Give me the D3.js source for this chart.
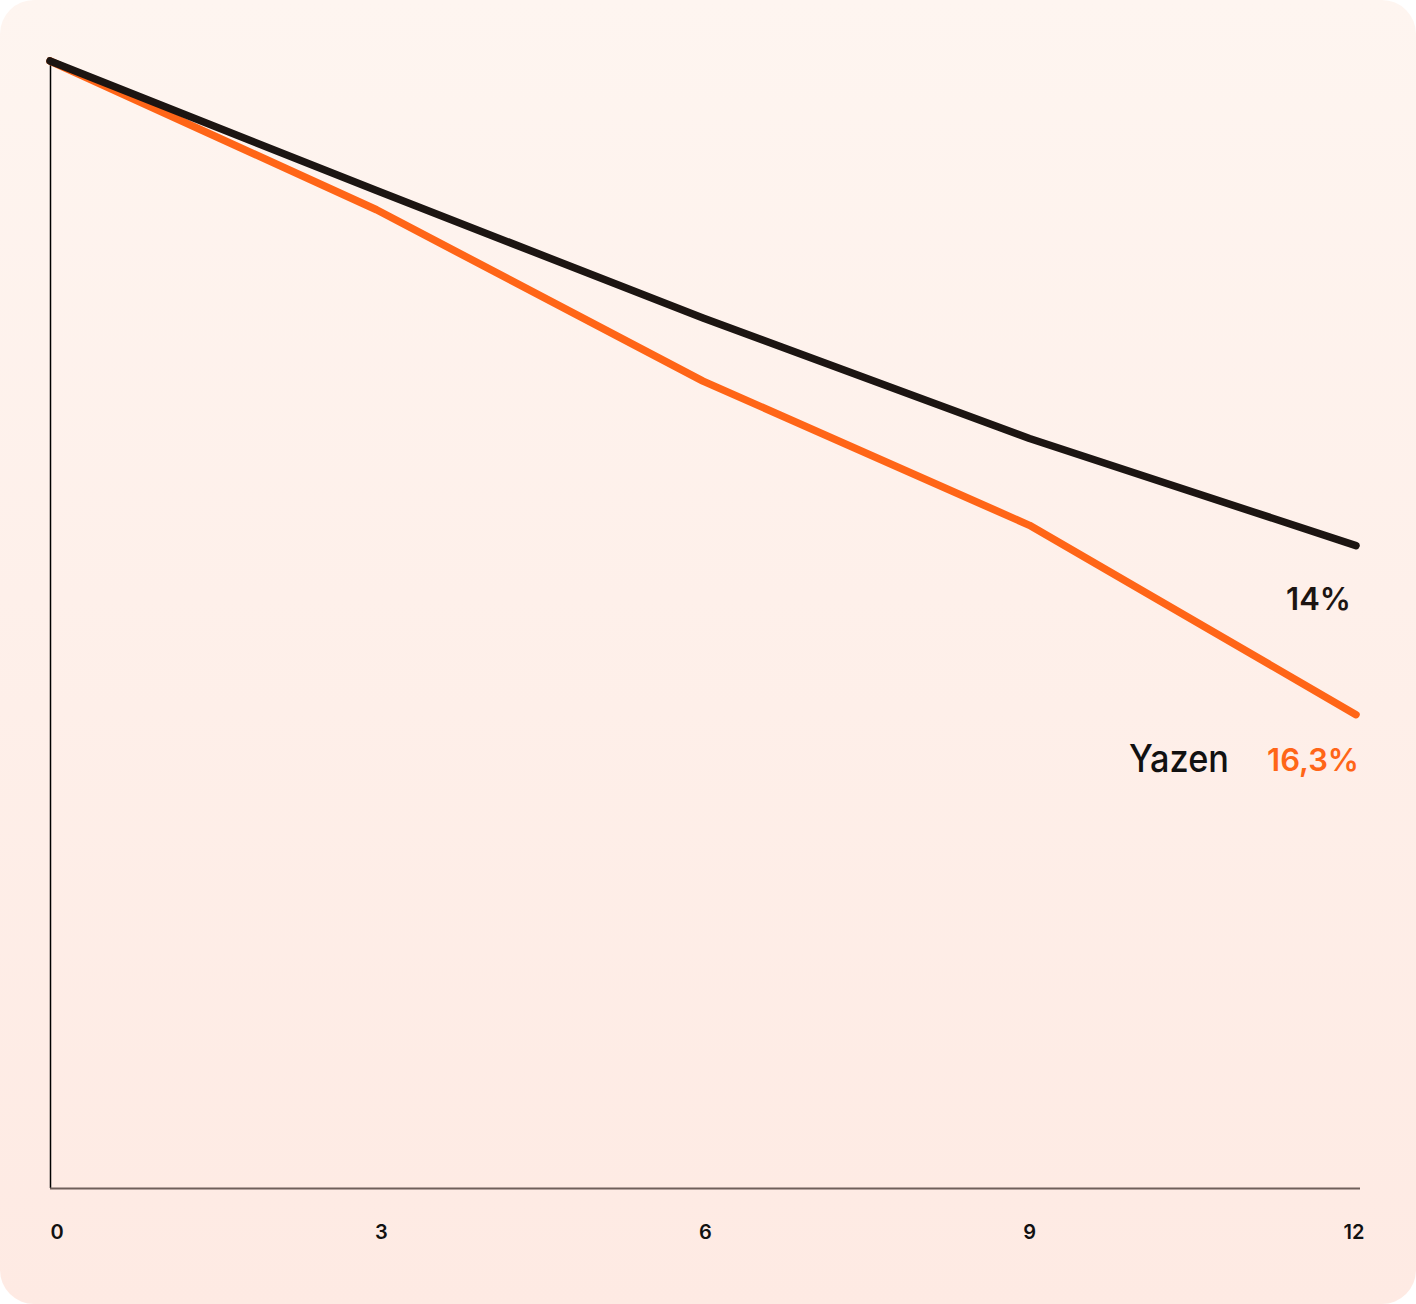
<!DOCTYPE html>
<html>
<head>
<meta charset="utf-8">
<script src="https://cdn.jsdelivr.net/npm/d3@7"></script>
<style>
	html, body { margin: 0; padding: 0; background: #ffffff; }
	svg { display: block; }
</style>
</head>
<body>
<div id="chart"></div>
<script>
// months on the x axis
var months = [0, 3, 6, 9, 12];
var tickLabels = ["0", "3", "6", "9", "12"];

// indexed value (start = 100)
var marketValues = [100, 88.5, 77.2, 66.5, 57.0];
var yazenValues = [100, 86.8, 71.6, 58.8, 42.0];

var endLabels = ["14%", "16,3%"];

var width = 1416, height = 1304;

var svg = d3.select("#chart").append("svg")
	.attr("width", width)
	.attr("height", height);

//Soft peach card behind everything
var defs = svg.append("defs");
var grad = defs.append("linearGradient")
	.attr("id", "bg")
	.attr("x1", 0).attr("y1", 0)
	.attr("x2", 0).attr("y2", 1);
grad.append("stop").attr("offset", "0%").attr("stop-color", "#fef5f0");
grad.append("stop").attr("offset", "100%").attr("stop-color", "#feeae3");

svg.append("rect")
	.attr("x", 0).attr("y", 0)
	.attr("width", width).attr("height", height)
	.attr("rx", 34).attr("ry", 34)
	.attr("fill", "url(#bg)");

var x = d3.scaleLinear().domain([0, 12]).range([50, 1356]);
var y = d3.scaleLinear().domain([0, 100]).range([1188, 61]);
//Tick labels sit on a slightly narrower spread than the points
var xLabel = d3.scaleLinear().domain([0, 12]).range([57, 1354]);

//Axes: plain lines, no ticks
svg.append("line")
	.attr("x1", x(0) + 0.5).attr("x2", x(0) + 0.5)
	.attr("y1", y(100) - 4).attr("y2", y(0))
	.attr("stroke", "#000")
	.attr("stroke-width", 1.5);

svg.append("line")
	.attr("x1", x(0)).attr("x2", 1360)
	.attr("y1", y(0) + 0.5).attr("y2", y(0) + 0.5)
	.attr("stroke", "#6e5f5a")
	.attr("stroke-width", 2);

svg.append("g")
	.selectAll("text")
	.data(months)
	.enter()
	.append("text")
	.attr("x", function(d) { return xLabel(d); })
	.attr("y", 1239)
	.attr("text-anchor", "middle")
	.attr("font-family", "Inter, 'Noto Sans', sans-serif")
	.attr("font-weight", 600)
	.attr("font-size", 20)
	.attr("fill", "#111")
	.text(function(d, i) { return tickLabels[i]; });

var line = d3.line()
	.x(function(d, i) { return x(months[i]); })
	.y(function(d) { return y(d); });

var series = [
	{ name: "market", values: marketValues, color: "#1c1512" },
	{ name: "yazen", values: yazenValues, color: "#ff6517" }
];

//Draw orange first so black sits on top at the shared start point
svg.selectAll("path.series")
	.data([series[1], series[0]])
	.enter()
	.append("path")
	.attr("class", "series")
	.attr("d", function(d) { return line(d.values); })
	.attr("fill", "none")
	.attr("stroke", function(d) { return d.color; })
	.attr("stroke-width", 7.5)
	.attr("stroke-linecap", "round")
	.attr("stroke-linejoin", "round");

//End labels
svg.append("text")
	.attr("x", 1351)
	.attr("y", 610)
	.attr("text-anchor", "end")
	.attr("font-family", "Inter, 'Noto Sans', sans-serif")
	.attr("font-weight", 600)
	.attr("font-size", 31)
	.attr("fill", "#1c1512")
	.text(endLabels[0]);

svg.append("text")
	.attr("x", 1359)
	.attr("y", 771)
	.attr("text-anchor", "end")
	.attr("font-family", "Inter, 'Noto Sans', sans-serif")
	.attr("font-weight", 600)
	.attr("font-size", 31)
	.attr("fill", "#ff6517")
	.text(endLabels[1]);

//Brand word next to the orange figure
svg.append("text")
	.attr("x", 1129)
	.attr("y", 772)
	.attr("font-family", "Inter, 'Noto Sans', sans-serif")
	.attr("font-weight", 500)
	.attr("font-size", 38)
	.attr("textLength", 100)
	.attr("lengthAdjust", "spacingAndGlyphs")
	.attr("fill", "#111")
	.text("Yazen");
</script>
</body>
</html>
